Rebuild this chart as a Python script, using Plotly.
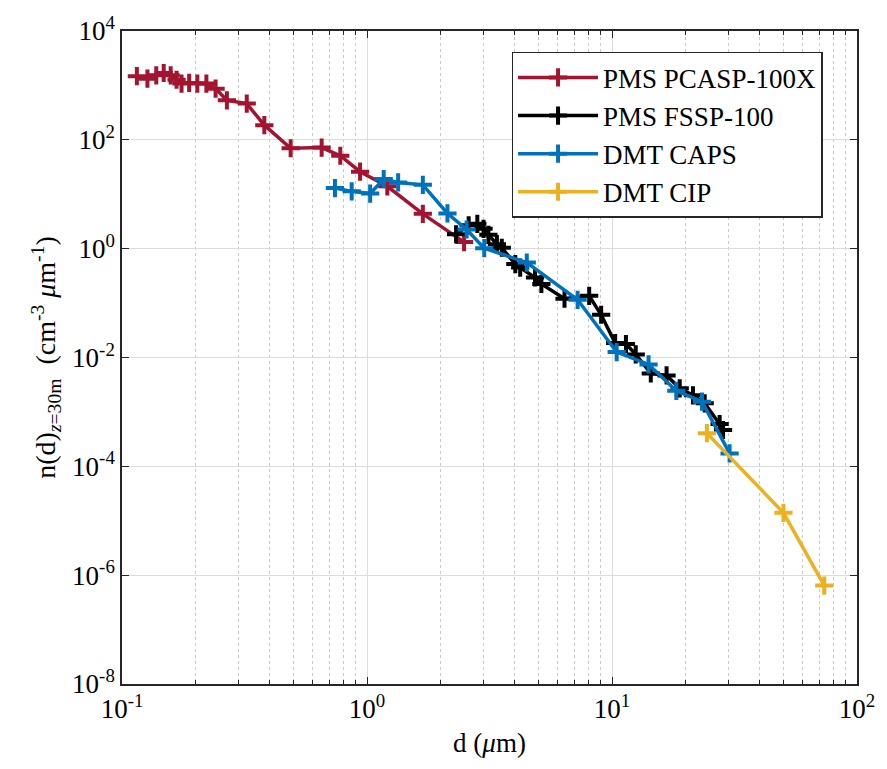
import plotly.graph_objects as go

# Size distributions at z = 30 m, per instrument
pcasp_d = [0.115, 0.127, 0.138, 0.148, 0.158, 0.167, 0.175, 0.188, 0.203, 0.221,
           0.241, 0.268, 0.323, 0.381, 0.488, 0.653, 0.778, 0.937, 1.21, 1.69, 2.49]
pcasp_n = [1476, 1330, 1530, 1690, 1530, 1270, 1080, 1110, 1080, 1080,
           873, 533, 464, 186, 70, 72, 51, 26, 14.0, 4.36, 1.32]

fssp_d = [2.31, 2.60, 2.82, 2.99, 3.13, 3.39, 3.55, 4.03, 4.22, 4.85, 5.15, 6.40,
          8.07, 9.03, 10.3, 11.4, 12.5, 14.4, 16.7, 18.9, 21.4, 23.9, 27.5, 28.4]
fssp_n = [1.84, 2.69, 2.86, 2.32, 1.80, 1.21, 1.04, 0.521, 0.450, 0.295, 0.225, 0.120,
          0.136, 0.061, 0.0184, 0.0177, 0.0114, 0.0051, 0.00469, 0.00271, 0.00202,
          0.00144, 0.000597, 0.000465]

caps_d = [0.740, 0.866, 1.03, 1.17, 1.34, 1.69, 2.13, 2.55, 3.01, 4.49, 7.24,
          10.45, 14.1, 18.3, 23.3, 30.2]
caps_n = [13.0, 11.3, 10.3, 19.0, 16.5, 14.9, 4.45, 2.25, 1.02, 0.555, 0.115,
          0.0126, 0.00745, 0.00244, 0.00154, 0.000173]

cip_d = [24.4, 50.1, 73.5]
cip_n = [0.000406, 1.40e-5, 6.43e-7]

x_tick_vals = [0.1, 1, 10, 100]
x_tick_text = ["10<sup>-1</sup>", "10<sup>0</sup>", "10<sup>1</sup>", "10<sup>2</sup>"]
y_tick_vals = [1e-8, 1e-6, 1e-4, 1e-2, 1, 1e2, 1e4]
y_tick_text = ["10<sup>-8</sup>", "10<sup>-6</sup>", "10<sup>-4</sup>", "10<sup>-2</sup>",
               "10<sup>0</sup>", "10<sup>2</sup>", "10<sup>4</sup>"]
x_minor_vals = [m * 10.0 ** k for k in (-1, 0, 1) for m in range(2, 10)]

series = [
    ("PMS PCASP-100X", pcasp_d, pcasp_n, "#A2142F"),
    ("PMS FSSP-100", fssp_d, fssp_n, "#000000"),
    ("DMT CAPS", caps_d, caps_n, "#0072BD"),
    ("DMT CIP", cip_d, cip_n, "#EDB120"),
]

font_family = "Liberation Serif"

fig = go.Figure()
for name, d, n, color in series:
    fig.add_trace(go.Scatter(
        x=d, y=n, mode="lines+markers", name=name,
        line=dict(color=color, width=3.5),
        marker=dict(symbol="cross-thin", size=13, color=color,
                    line=dict(width=4, color=color)),
    ))

axis_color = "#262626"
fig.update_xaxes(
    type="log", range=[-1, 2],
    tickmode="array", tickvals=x_tick_vals, ticktext=x_tick_text,
    ticks="inside", ticklen=7, tickwidth=1.2, tickcolor=axis_color,
    showline=True, linecolor=axis_color, linewidth=1.5, mirror="ticks",
    showgrid=True, gridcolor="#dcdcdc", gridwidth=1,
    minor=dict(tickmode="array", tickvals=x_minor_vals, ticks="inside", ticklen=4,
               tickcolor=axis_color, showgrid=True, gridcolor="#c8c8c8",
               griddash="dot", gridwidth=1),
    zeroline=False,
    tickfont=dict(family=font_family, size=27, color="#000000"),
    title=dict(text="d (<i>μ</i>m)", standoff=10,
               font=dict(family=font_family, size=27, color="#000000")),
)
fig.update_yaxes(
    type="log", range=[-8, 4],
    tickmode="array", tickvals=y_tick_vals, ticktext=y_tick_text,
    ticks="inside", ticklen=7, tickwidth=1.2, tickcolor=axis_color,
    showline=True, linecolor=axis_color, linewidth=1.5, mirror="ticks",
    showgrid=True, gridcolor="#dcdcdc", gridwidth=1,
    zeroline=False,
    tickfont=dict(family=font_family, size=27, color="#000000"),
    title=dict(text="n(d)<sub><i>z</i>=30m</sub>  (cm<sup>-3</sup> <i>μ</i>m<sup>-1</sup>)",
               standoff=8,
               font=dict(family=font_family, size=28, color="#000000")),
)

fig.update_layout(
    width=887, height=769,
    margin=dict(l=122, r=21, t=27, b=85),
    paper_bgcolor="#ffffff", plot_bgcolor="#ffffff",
    font=dict(family=font_family, size=27, color="#000000"),
    showlegend=True,
    legend=dict(x=0.53, y=0.968, xanchor="left", yanchor="top",
                bgcolor="#ffffff", bordercolor="#262626", borderwidth=1.5,
                font=dict(family=font_family, size=27, color="#000000"),
                tracegroupgap=0, itemwidth=80),
)

fig.write_html("out.html")
